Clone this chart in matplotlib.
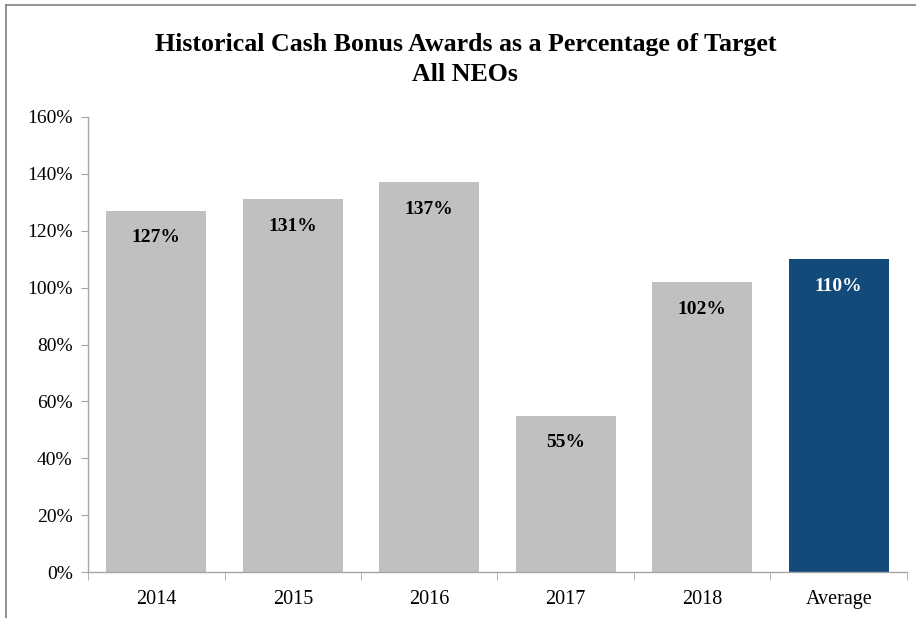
import numpy as np
import matplotlib.pyplot as plt
from matplotlib.lines import Line2D
from matplotlib.ticker import FuncFormatter, FixedLocator

categories = ['2014', '2015', '2016', '2017', '2018', 'Average']
values = [1.27, 1.31, 1.37, 0.55, 1.02, 1.10]
labels = ['127%', '131%', '137%', '55%', '102%', '110%']

GRAY = '#c0c0c0'
BLUE = '#124a7a'
AXIS_GRAY = '#a6a6a6'

plt.rcParams['font.family'] = ['Liberation Serif', 'DejaVu Serif']

fig = plt.figure(figsize=(9.16, 6.18), dpi=100)
ax = fig.add_axes([0.0961, 0.0744, 0.894, 0.7363])

x = np.arange(len(categories))
colors = [GRAY] * (len(categories) - 1) + [BLUE]
ax.bar(x, values, width=0.73, color=colors, zorder=2)

for xi, v, lab, c in zip(x, values, labels, colors):
    txt_color = 'white' if c == BLUE else 'black'
    ax.annotate(lab, (xi, v), xytext=(0, -19.5), textcoords='offset points',
                ha='center', va='center', fontsize=14, fontweight='bold',
                color=txt_color)

ax.set_xlim(-0.5, len(categories) - 0.5)
ax.set_ylim(0, 1.6)
ax.set_yticks(np.arange(0, 1.61, 0.2))
ax.yaxis.set_major_formatter(FuncFormatter(lambda v, p: f'{v*100:.0f}%'))

ax.set_xticks(x)
ax.set_xticklabels(categories)
ax.xaxis.set_minor_locator(FixedLocator(np.arange(-0.5, len(categories), 1.0)))
ax.tick_params(axis='x', which='major', length=0, pad=13, labelsize=14.5)
ax.tick_params(axis='x', which='minor', length=6, color=AXIS_GRAY, direction='out')
ax.tick_params(axis='y', length=5, color=AXIS_GRAY, direction='out', pad=6, labelsize=14)

for side in ['top', 'right']:
    ax.spines[side].set_visible(False)
for side in ['left', 'bottom']:
    ax.spines[side].set_color(AXIS_GRAY)
    ax.spines[side].set_linewidth(1.0)

fig.text(0.508, 0.928, 'Historical Cash Bonus Awards as a Percentage of Target',
         ha='center', va='center', fontsize=18.6, fontweight='bold')
fig.text(0.508, 0.879, 'All NEOs', ha='center', va='center',
         fontsize=18.6, fontweight='bold')

# partial frame along the top and left edges
fig.add_artist(Line2D([0.0065, 1.0], [0.992, 0.992], color='#808080', lw=1.2))
fig.add_artist(Line2D([0.0065, 0.0065], [0.0, 0.992], color='#808080', lw=1.2))

fig.savefig('out.png', dpi=100)
